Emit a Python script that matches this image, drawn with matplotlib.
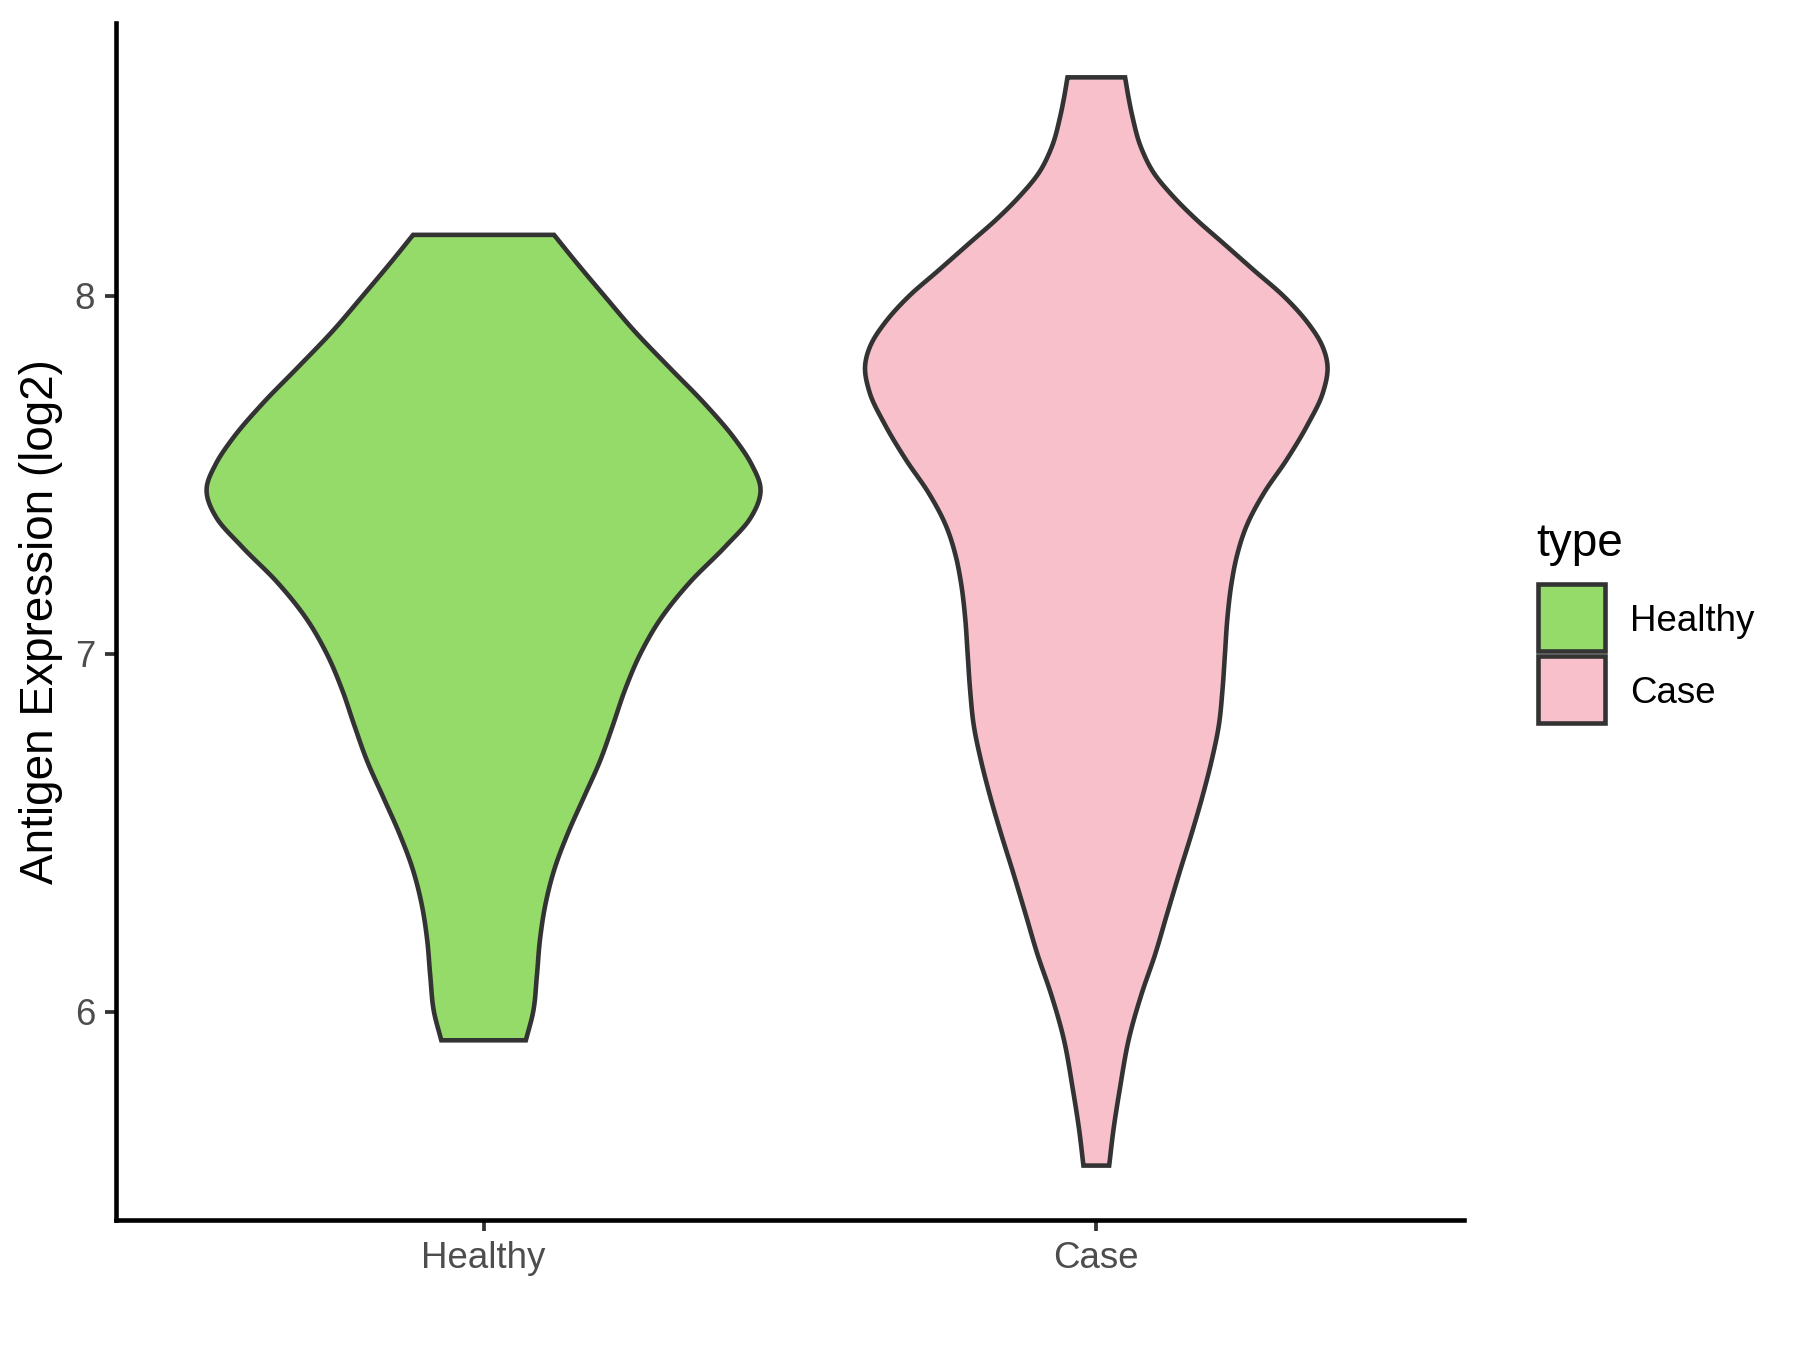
import numpy as np
import matplotlib
matplotlib.use('Agg')
import matplotlib.pyplot as plt
from matplotlib.patches import Rectangle

plt.rcParams['font.family'] = ['Liberation Sans', 'DejaVu Sans']

# violin outlines: expression level and half width (in category units)
categories = ['Healthy', 'Case']
fills = ['#94DB6A', '#F7C0CB']

healthy_y = [8.17, 8.10, 8.00, 7.90, 7.80, 7.70, 7.60, 7.53, 7.46, 7.38, 7.30, 7.20, 7.10,
             7.00, 6.90, 6.80, 6.70, 6.60, 6.50, 6.40, 6.30, 6.20, 6.10, 6.00, 5.92]
healthy_w = [0.115, 0.148, 0.197, 0.247, 0.303, 0.360, 0.410, 0.437, 0.452, 0.436, 0.395, 0.337, 0.290,
             0.256, 0.231, 0.211, 0.190, 0.164, 0.138, 0.116, 0.101, 0.092, 0.087, 0.081, 0.069]

case_y = [8.61, 8.55, 8.50, 8.41, 8.34, 8.28, 8.21, 8.15, 8.07, 8.00, 7.92, 7.87, 7.81, 7.73,
          7.64, 7.54, 7.45, 7.36, 7.27, 7.20, 7.10, 7.00, 6.90, 6.80, 6.70, 6.60, 6.50, 6.39, 6.27,
          6.16, 6.05, 5.93, 5.78, 5.67, 5.57]
case_w = [0.047, 0.053, 0.059, 0.074, 0.095, 0.124, 0.165, 0.205, 0.258, 0.305, 0.347, 0.366, 0.377, 0.370,
          0.345, 0.310, 0.274, 0.246, 0.229, 0.221, 0.214, 0.210, 0.206, 0.200, 0.188, 0.173, 0.156, 0.136, 0.115,
          0.096, 0.074, 0.054, 0.038, 0.028, 0.021]


def smooth_outline(ys, ws, n=25):
    # cubic hermite through the read points, only to draw a smooth edge
    ys = np.asarray(ys, float)[::-1]
    ws = np.asarray(ws, float)[::-1]
    m = np.gradient(ws, ys)
    out_y, out_w = [], []
    for i in range(len(ys) - 1):
        h = ys[i + 1] - ys[i]
        t = np.linspace(0, 1, n, endpoint=False)
        h00 = 2*t**3 - 3*t**2 + 1
        h10 = t**3 - 2*t**2 + t
        h01 = -2*t**3 + 3*t**2
        h11 = t**3 - t**2
        out_y.append(ys[i] + t*h)
        out_w.append(h00*ws[i] + h10*h*m[i] + h01*ws[i+1] + h11*h*m[i+1])
    out_y.append([ys[-1]])
    out_w.append([ws[-1]])
    return np.concatenate(out_y), np.concatenate(out_w)


fig = plt.figure(figsize=(6, 4.5), dpi=300)
ax = fig.add_axes([0.0644, 0.0963, 0.7489, 0.8867])

for i, (ys, ws) in enumerate([(healthy_y, healthy_w), (case_y, case_w)]):
    yy, ww = smooth_outline(ys, ws)
    pos = i + 1
    xs = np.concatenate([pos + ww, (pos - ww)[::-1]])
    yv = np.concatenate([yy, yy[::-1]])
    ax.fill(xs, yv, facecolor=fills[i], edgecolor='#333333', linewidth=1.1, zorder=2)

lo = min(min(healthy_y), min(case_y))
hi = max(max(healthy_y), max(case_y))
pad = (hi - lo) * 0.05
ax.set_ylim(lo - pad, hi + pad)
ax.set_xlim(0.4, 2.6)

ax.set_xticks([1, 2])
ax.set_xticklabels(categories)
ax.set_yticks([6, 7, 8])
ax.tick_params(axis='both', length=2.75, width=0.9, color='#333333',
               labelcolor='#4D4D4D', labelsize=8.8, pad=2.2)
for s in ['top', 'right']:
    ax.spines[s].set_visible(False)
for s in ['left', 'bottom']:
    ax.spines[s].set_linewidth(1.1)
    ax.spines[s].set_color('black')
ax.set_ylabel('Antigen Expression (log2)', fontsize=11, color='black')
ax.yaxis.set_label_coords(-0.039, 0.5)

# legend
fig.text(0.8533, 0.597, 'type', fontsize=11, ha='left', va='center')
key_w, key_h = 67 / 1800, 67 / 1350
key_y = [0.5178, 0.4644]
for i, lab in enumerate(categories):
    fig.add_artist(Rectangle((0.8544, key_y[i]), key_w, key_h, transform=fig.transFigure,
                             facecolor=fills[i], edgecolor='#333333', linewidth=1.1))
    fig.text(0.9056, key_y[i] + key_h / 2 - 0.003, lab, fontsize=8.8, ha='left', va='center')

fig.savefig('out.png', dpi=300, facecolor='white')
